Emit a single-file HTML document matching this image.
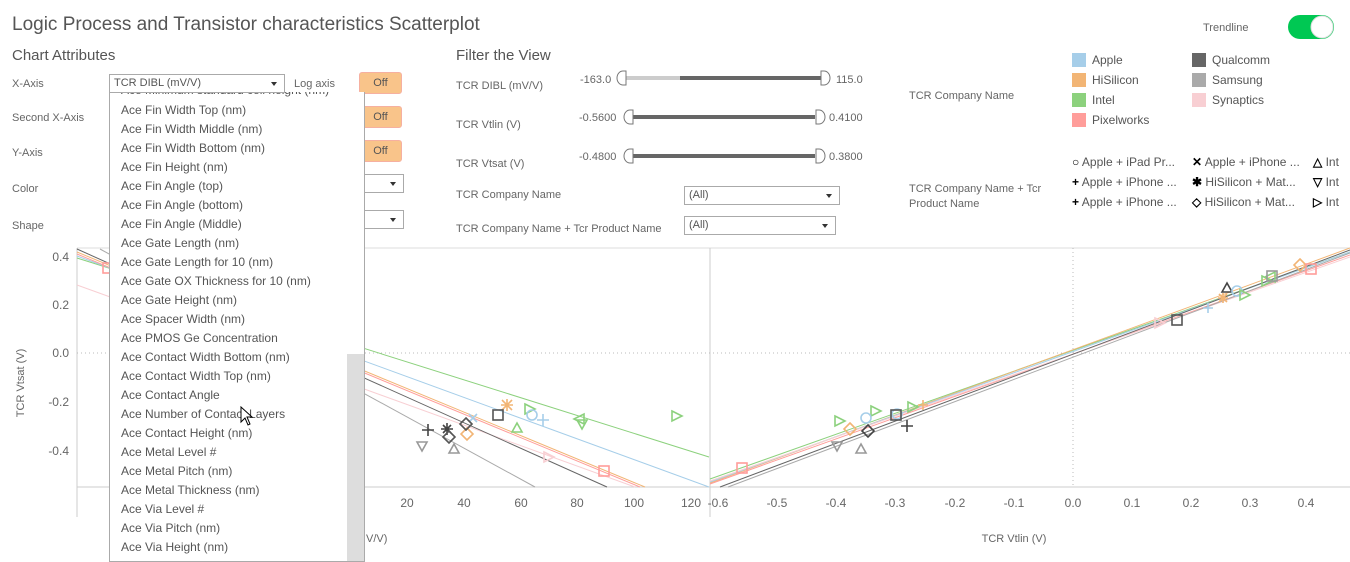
<!DOCTYPE html>
<html><head><meta charset="utf-8"><style>
body{margin:0;width:1350px;height:561px;background:#fff;font-family:"Liberation Sans",sans-serif;color:#666;position:relative;overflow:hidden}
.a{position:absolute;white-space:nowrap}
.s{font-size:11px;color:#666}
.off{position:absolute;left:359px;width:41px;height:20px;background:#f9c48a;border:1px solid #f6b0a0;border-radius:3px;font-size:11px;color:#555;text-align:center;line-height:20px}
.dd{position:absolute;border:1px solid #aaa;background:#fff;height:17px;font-size:11px;line-height:17px;padding-left:4px;color:#555}
.dd:after{content:"";position:absolute;right:7px;top:7px;border-left:3.5px solid transparent;border-right:3.5px solid transparent;border-top:4px solid #333}
.li{position:absolute;left:121px;font-size:12px;color:#555}
.sw{position:absolute;width:14px;height:14px}
</style></head><body>
<div class="a" style="left:12px;top:14px;font-size:19px;color:#555">Logic Process and Transistor characteristics Scatterplot</div>
<div class="a" style="left:12px;top:47px;font-size:15px;color:#555">Chart Attributes</div>
<div class="a s" style="left:12px;top:78px">X-Axis</div>
<div class="a s" style="left:12px;top:112px">Second X-Axis</div>
<div class="a s" style="left:12px;top:147px">Y-Axis</div>
<div class="a s" style="left:12px;top:183px">Color</div>
<div class="a s" style="left:12px;top:220px">Shape</div>
<div class="a s" style="left:294px;top:78px">Log axis</div>
<div class="off" style="top:72px">Off</div>
<div class="off" style="top:106px">Off</div>
<div class="off" style="top:140px">Off</div>
<div class="dd" style="left:300px;top:174px;width:98px"></div>
<div class="dd" style="left:300px;top:210px;width:98px"></div>

<div class="a" style="left:456px;top:47px;font-size:15px;color:#555">Filter the View</div>
<div class="a s" style="left:456px;top:80px">TCR DIBL (mV/V)</div>
<div class="a s" style="left:456px;top:119px">TCR Vtlin (V)</div>
<div class="a s" style="left:456px;top:158px">TCR Vtsat (V)</div>
<div class="a s" style="left:456px;top:189px">TCR Company Name</div>
<div class="a s" style="left:456px;top:223px">TCR Company Name + Tcr Product Name</div>
<div class="a s" style="left:580px;top:74px">-163.0</div>
<div class="a s" style="left:836px;top:74px">115.0</div>
<div class="a s" style="left:579px;top:112px">-0.5600</div>
<div class="a s" style="left:829px;top:112px">0.4100</div>
<div class="a s" style="left:579px;top:151px">-0.4800</div>
<div class="a s" style="left:829px;top:151px">0.3800</div>
<div class="dd" style="left:684px;top:186px;width:150px">(All)</div>
<div class="dd" style="left:684px;top:216px;width:146px">(All)</div>
<svg class="a" style="left:0;top:0" width="1350" height="561">
<g stroke="#777" fill="#fff" stroke-width="1">
<line x1="625" y1="78" x2="680" y2="78" stroke="#ccc" stroke-width="4"/>
<line x1="680" y1="78" x2="822" y2="78" stroke="#666" stroke-width="4"/>
<path d="M626,71 h-3 a6,7 0 0 0 0,14 h3 z"/><path d="M821,71 h3 a6,7 0 0 1 0,14 h-3 z"/>
<line x1="632" y1="117" x2="815" y2="117" stroke="#666" stroke-width="4"/>
<path d="M633,110 h-3 a6,7 0 0 0 0,14 h3 z"/><path d="M816,110 h3 a6,7 0 0 1 0,14 h-3 z"/>
<line x1="632" y1="156" x2="815" y2="156" stroke="#666" stroke-width="4"/>
<path d="M633,149 h-3 a6,7 0 0 0 0,14 h3 z"/><path d="M816,149 h3 a6,7 0 0 1 0,14 h-3 z"/>
</g>
<rect x="1288" y="15" width="46" height="24" rx="12" fill="#00c853"/>
<circle cx="1322" cy="27" r="11" fill="#fff" stroke="#ddd"/>
</svg>
<div class="a s" style="left:1203px;top:22px">Trendline</div>
<div class="a s" style="left:909px;top:90px">TCR Company Name</div>
<div class="a s" style="left:909px;top:182px;line-height:15px">TCR Company Name + Tcr<br>Product Name</div>
<div class="sw" style="left:1072px;top:53px;background:#a6cee9"></div><div class="a" style="left:1092px;top:53px;font-size:12px;color:#555">Apple</div>
<div class="sw" style="left:1072px;top:73px;background:#f2b575"></div><div class="a" style="left:1092px;top:73px;font-size:12px;color:#555">HiSilicon</div>
<div class="sw" style="left:1072px;top:93px;background:#8cd17d"></div><div class="a" style="left:1092px;top:93px;font-size:12px;color:#555">Intel</div>
<div class="sw" style="left:1072px;top:113px;background:#ff9d9a"></div><div class="a" style="left:1092px;top:113px;font-size:12px;color:#555">Pixelworks</div>
<div class="sw" style="left:1192px;top:53px;background:#666"></div><div class="a" style="left:1212px;top:53px;font-size:12px;color:#555">Qualcomm</div>
<div class="sw" style="left:1192px;top:73px;background:#aaa"></div><div class="a" style="left:1212px;top:73px;font-size:12px;color:#555">Samsung</div>
<div class="sw" style="left:1192px;top:93px;background:#f8cfd3"></div><div class="a" style="left:1212px;top:93px;font-size:12px;color:#555">Synaptics</div>
<div class="a" style="left:1072px;top:152px;font-size:12px;color:#555;line-height:20px">
<b style="color:#000">○</b> Apple + iPad Pr...<br><b style="color:#000">+</b> Apple + iPhone ...<br><b style="color:#000">+</b> Apple + iPhone ...</div>
<div class="a" style="left:1192px;top:152px;font-size:12px;color:#555;line-height:20px">
<b style="color:#000">✕</b> Apple + iPhone ...<br><b style="color:#000">✱</b> HiSilicon + Mat...<br><b style="color:#000">◇</b> HiSilicon + Mat...</div>
<div class="a" style="left:1313px;top:152px;font-size:12px;color:#555;line-height:20px">
<b style="color:#000">△</b> Int<br><b style="color:#000">▽</b> Int<br><b style="color:#000">▷</b> Int</div>

<svg class="a" style="left:0;top:0" width="1350" height="561" font-family="Liberation Sans" font-size="12" fill="#666">
<line x1="77" y1="248" x2="1350" y2="248" stroke="#ddd"/>
<line x1="77" y1="248" x2="77" y2="517" stroke="#ccc"/>
<line x1="710" y1="248" x2="710" y2="517" stroke="#ccc"/>
<line x1="77" y1="487" x2="1350" y2="487" stroke="#ccc"/>
<line x1="77" y1="353" x2="1350" y2="353" stroke="#bbb" stroke-dasharray="1,3"/>
<line x1="1073" y1="248" x2="1073" y2="487" stroke="#bbb" stroke-dasharray="1,3"/>
<g text-anchor="end"><text x="69" y="261">0.4</text><text x="69" y="309">0.2</text><text x="69" y="357">0.0</text><text x="69" y="406">-0.2</text><text x="69" y="455">-0.4</text></g>
<text transform="translate(24,383) rotate(-90)" text-anchor="middle" font-size="11">TCR Vtsat (V)</text>
<g text-anchor="middle"><text x="407" y="507">20</text><text x="464" y="507">40</text><text x="521" y="507">60</text><text x="577" y="507">80</text><text x="634" y="507">100</text><text x="691" y="507">120</text>
<text x="718" y="507">-0.6</text><text x="777" y="507">-0.5</text><text x="836" y="507">-0.4</text><text x="895" y="507">-0.3</text><text x="955" y="507">-0.2</text><text x="1014" y="507">-0.1</text><text x="1073" y="507">0.0</text><text x="1132" y="507">0.1</text><text x="1191" y="507">0.2</text><text x="1250" y="507">0.3</text><text x="1306" y="507">0.4</text></g>
<text x="1014" y="542" text-anchor="middle" font-size="11">TCR Vtlin (V)</text>
<text x="366" y="542" font-size="11">V/V)</text>
<g stroke-width="1" fill="none">
<line x1="77" y1="258" x2="709" y2="457" stroke="#8cd17d"/>
<line x1="77" y1="252" x2="645" y2="487" stroke="#f2b575"/>
<line x1="77" y1="256" x2="709" y2="487" stroke="#a6cee9"/>
<line x1="77" y1="254" x2="640" y2="487" stroke="#ff9d9a"/>
<line x1="77" y1="285" x2="635" y2="487" stroke="#f8cfd3"/>
<line x1="77" y1="249" x2="607" y2="487" stroke="#666"/>
<line x1="100" y1="249" x2="535" y2="487" stroke="#aaa"/>
<line x1="710" y1="479" x2="1350" y2="252" stroke="#8cd17d"/>
<line x1="710" y1="483" x2="1350" y2="248" stroke="#f2b575"/>
<line x1="710" y1="482" x2="1350" y2="252" stroke="#a6cee9"/>
<line x1="710" y1="484" x2="1350" y2="255" stroke="#ff9d9a"/>
<line x1="710" y1="481" x2="1350" y2="257" stroke="#f8cfd3"/>
<line x1="720" y1="487" x2="1350" y2="250" stroke="#666"/>
<line x1="728" y1="487" x2="1350" y2="253" stroke="#aaa"/>
</g>
<g fill="none" stroke-width="1.6">
<path d="M525,404 l10,5 l-10,5z M672,411 l10,5 l-10,5z M574,419 l10,-5 l0,10z" stroke="#8cd17d"/>
<path d="M512,432 l5,-9 l5,9z M577,420 l5,9 l5,-9z" stroke="#8cd17d"/>
<circle cx="532" cy="415" r="5" stroke="#a6cee9"/>
<path d="M537,420 h12 M543,414 v12 M469,414 l8,8 M477,414 l-8,8" stroke="#a6cee9"/>
<path d="M501,405 h12 M507,399 v12 M502,400 l10,10 M512,400 l-10,10" stroke="#f2b575"/>
<path d="M467,428 l6,6 l-6,6 l-6,-6z" stroke="#f2b575"/>
<rect x="493" y="410" width="10" height="10" stroke="#555"/>
<rect x="599" y="466" width="10" height="10" stroke="#ff9d9a"/>
<rect x="103" y="263" width="10" height="10" stroke="#ff9d9a"/>
<path d="M544,452 l10,5 l-10,5z" stroke="#f8cfd3"/>
<path d="M422,430 h12 M428,424 v12 M441,429 h12 M447,423 v12 M443,425 l8,8 M451,425 l-8,8" stroke="#444"/>
<path d="M449,431 l6,6 l-6,6 l-6,-6z M466,418 l6,6 l-6,6 l-6,-6z" stroke="#555"/>
<path d="M417,442 l5,9 l5,-9z M449,453 l5,-9 l5,9z" stroke="#999"/>
<rect x="737" y="463" width="10" height="10" stroke="#ff9d9a"/>
<path d="M850,423 l6,6 l-6,6 l-6,-6z" stroke="#f2b575"/>
<path d="M832,442 l5,9 l5,-9z M856,453 l5,-9 l5,9z" stroke="#999"/>
<path d="M835,416 l10,5 l-10,5z M871,406 l10,5 l-10,5z M908,402 l10,5 l-10,5z" stroke="#8cd17d"/>
<circle cx="866" cy="418" r="5" stroke="#a6cee9"/><circle cx="897" cy="414" r="5" stroke="#a6cee9"/>
<rect x="891" y="410" width="10" height="10" stroke="#555"/>
<path d="M868,425 l6,6 l-6,6 l-6,-6z" stroke="#444"/>
<path d="M901,426 h12 M907,420 v12" stroke="#444"/>
<path d="M918,405 h10 M923,400 v10" stroke="#f2b575"/>
<rect x="1172" y="315" width="10" height="10" stroke="#555"/>
<path d="M1203,308 h10 M1208,303 v10" stroke="#a6cee9"/>
<path d="M1155,318 l10,5 l-10,5z" stroke="#f8cfd3"/>
<path d="M1222,292 l5,-9 l5,9z" stroke="#444"/>
<circle cx="1237" cy="291" r="5" stroke="#a6cee9"/>
<path d="M1218,298 h10 M1223,293 v10 M1219,294 l8,8 M1227,294 l-8,8" stroke="#f2b575"/>
<path d="M1240,290 l10,5 l-10,5z M1262,276 l10,5 l-10,5z M1275,282 l-10,-5 l10,-5z" stroke="#8cd17d"/>
<rect x="1267" y="271" width="10" height="10" stroke="#999"/>
<path d="M1300,259 l6,6 l-6,6 l-6,-6z" stroke="#f2b575"/>
<rect x="1306" y="264" width="10" height="10" stroke="#ff9d9a"/>
</g>
</svg>

<div class="a" style="left:109px;top:92px;width:254px;height:469px;background:#fff;border:1px solid #aaa;border-top:none;overflow:hidden">
<div class="li" style="left:11px;top:-9px">Ace Minimum standard cell height (nm)</div>
<div class="li" style="left:11px;top:11px">Ace Fin Width Top (nm)</div>
<div class="li" style="left:11px;top:30px">Ace Fin Width Middle (nm)</div>
<div class="li" style="left:11px;top:49px">Ace Fin Width Bottom (nm)</div>
<div class="li" style="left:11px;top:68px">Ace Fin Height (nm)</div>
<div class="li" style="left:11px;top:87px">Ace Fin Angle (top)</div>
<div class="li" style="left:11px;top:106px">Ace Fin Angle (bottom)</div>
<div class="li" style="left:11px;top:125px">Ace Fin Angle (Middle)</div>
<div class="li" style="left:11px;top:144px">Ace Gate Length (nm)</div>
<div class="li" style="left:11px;top:163px">Ace Gate Length for 10 (nm)</div>
<div class="li" style="left:11px;top:182px">Ace Gate OX Thickness for 10 (nm)</div>
<div class="li" style="left:11px;top:201px">Ace Gate Height (nm)</div>
<div class="li" style="left:11px;top:220px">Ace Spacer Width (nm)</div>
<div class="li" style="left:11px;top:239px">Ace PMOS Ge Concentration</div>
<div class="li" style="left:11px;top:258px">Ace Contact Width Bottom (nm)</div>
<div class="li" style="left:11px;top:277px">Ace Contact Width Top (nm)</div>
<div class="li" style="left:11px;top:296px">Ace Contact Angle</div>
<div class="li" style="left:11px;top:315px">Ace Number of Contact Layers</div>
<div class="li" style="left:11px;top:334px">Ace Contact Height (nm)</div>
<div class="li" style="left:11px;top:353px">Ace Metal Level #</div>
<div class="li" style="left:11px;top:372px">Ace Metal Pitch (nm)</div>
<div class="li" style="left:11px;top:391px">Ace Metal Thickness (nm)</div>
<div class="li" style="left:11px;top:410px">Ace Via Level #</div>
<div class="li" style="left:11px;top:429px">Ace Via Pitch (nm)</div>
<div class="li" style="left:11px;top:448px">Ace Via Height (nm)</div>
<div style="position:absolute;left:237px;top:262px;width:17px;height:207px;background:#ddd"></div>
</div>
<div class="dd" style="left:109px;top:74px;width:170px;font-size:11px">TCR DIBL (mV/V)</div>
<svg class="a" style="left:240px;top:406px" width="14" height="20"><path d="M1,1 L1,16 L5,12 L8,19 L10,18 L7,11 L12,11 Z" fill="#fff" stroke="#000"/></svg>
</body></html>
